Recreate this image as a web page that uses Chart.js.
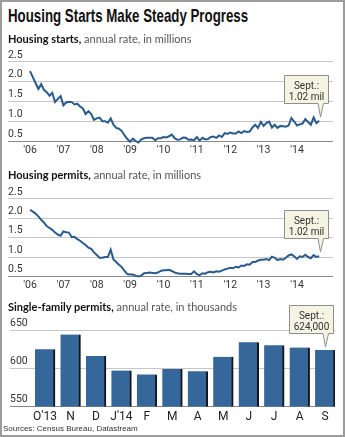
<!DOCTYPE html>
<html>
<head>
<meta charset="utf-8">
<script src="https://cdn.jsdelivr.net/npm/chart.js@4.4.1/dist/chart.umd.min.js"></script>
<style>
  body { margin: 0; background: #fff; }
  #page { position: relative; width: 345px; height: 437px; overflow: hidden; }
  .txt { position: absolute; white-space: nowrap; }
  #title { left: 8px; top: 6px; font: bold 19px/19px "Liberation Sans Narrow", "Liberation Sans", sans-serif; color: #111; transform-origin: 0 0; }
  .sub { left: 8px; font: 11px/11px Lato, sans-serif; color: #555; }
  .sub b { color: #111; font-weight: bold; }
  #src { left: 3px; top: 425px; font: 8px/8px "Liberation Sans Narrow", sans-serif; color: #333; }
  canvas { position: absolute; left: 0; }
  .note { position: absolute; }
  .note text { font: 10px Roboto, sans-serif; fill: #333; }
  #frame { position: absolute; left: 0; top: 0; width: 345px; height: 437px; box-sizing: border-box; border: 2px solid #9c9c9c; pointer-events: none; }
</style>
</head>
<body>
<div id="page">
  <canvas id="startsChart" width="345" height="126" style="top:34px"></canvas>
  <canvas id="permitsChart" width="345" height="124" style="top:171px"></canvas>
  <canvas id="singleChart" width="345" height="127" style="top:300px"></canvas>
  <div class="txt" id="title">Housing Starts Make Steady Progress</div>
  <div class="txt sub" style="top:33px"><b>Housing starts,</b> annual rate, in millions</div>
  <div class="txt sub" style="top:169px"><b>Housing permits,</b> annual rate, in millions</div>
  <div class="txt sub" style="top:301px"><b>Single-family permits,</b> annual rate, in thousands</div>
  <div class="txt" id="src">Sources: Census Bureau, Datastream</div>
  <div id="frame"></div>
</div>
<script>
// monthly, Jan 2006 - Sept 2014, millions (annual rate)
const startYear = 2006;
const housingStarts = [
  2.27, 2.12, 1.97, 1.82, 1.94, 1.80, 1.74, 1.65, 1.72, 1.49, 1.57, 1.64,
  1.41, 1.48, 1.50, 1.49, 1.43, 1.45, 1.38, 1.33, 1.19, 1.26, 1.19, 1.04,
  1.08, 1.10, 1.01, 1.01, 0.97, 1.08, 0.92, 0.84, 0.82, 0.76, 0.65, 0.56,
  0.49, 0.57, 0.51, 0.47, 0.55, 0.58, 0.59, 0.59, 0.59, 0.53, 0.58, 0.58,
  0.61, 0.60, 0.63, 0.67, 0.58, 0.54, 0.55, 0.60, 0.59, 0.54, 0.55, 0.53,
  0.61, 0.52, 0.59, 0.55, 0.56, 0.61, 0.62, 0.59, 0.65, 0.61, 0.71, 0.69,
  0.72, 0.70, 0.70, 0.75, 0.71, 0.76, 0.74, 0.75, 0.85, 0.92, 0.84, 0.99,
  0.89, 0.96, 1.00, 0.85, 0.92, 0.84, 0.89, 0.88, 0.87, 0.90, 1.09, 1.00,
  0.90, 0.93, 0.95, 1.06, 0.99, 0.92, 1.10, 0.96, 1.02
];
const housingPermits = [
  2.22, 2.17, 2.12, 2.05, 1.96, 1.89, 1.80, 1.75, 1.70, 1.63, 1.58, 1.55,
  1.66, 1.64, 1.63, 1.51, 1.52, 1.46, 1.42, 1.36, 1.31, 1.24, 1.21, 1.12,
  1.05, 0.98, 0.98, 1.00, 1.00, 1.19, 0.94, 0.87, 0.80, 0.74, 0.64, 0.56,
  0.55, 0.55, 0.52, 0.50, 0.52, 0.58, 0.59, 0.60, 0.59, 0.58, 0.60, 0.64,
  0.66, 0.66, 0.67, 0.64, 0.60, 0.58, 0.57, 0.57, 0.57, 0.56, 0.56, 0.63,
  0.56, 0.53, 0.58, 0.57, 0.61, 0.62, 0.60, 0.63, 0.62, 0.65, 0.68, 0.70,
  0.72, 0.71, 0.75, 0.73, 0.78, 0.77, 0.81, 0.80, 0.87, 0.87, 0.91, 0.93,
  0.93, 0.95, 0.92, 1.01, 0.98, 0.92, 0.95, 0.93, 0.98, 1.04, 1.07, 1.02,
  0.95, 1.02, 1.00, 1.06, 1.00, 0.97, 1.05, 1.00, 1.02
];
const yearTicks = [2006, 2007, 2008, 2009, 2010, 2011, 2012, 2013, 2014];
const millionTicks = [0.5, 1.0, 1.5, 2.0, 2.5];

// single-family permits, thousands
const months = ["O'13", 'N', 'D', "J'14", 'F', 'M', 'A', 'M', 'J', 'J', 'A', 'S'];
const singleFamily = [625, 644, 616, 597, 592, 599, 596, 615, 634, 630, 627, 624];
const thousandTicks = [550, 600, 650];

const lineColor = '#2b5b8c';
const barColor = '#36679a';

// squeeze the headline to the reference width
const title = document.getElementById('title');
title.style.transform = 'scaleX(' + (240 / title.offsetWidth) + ')';

function gridColor(ctx) {
  return ctx.index === 0 ? '#8a8a8a' : '#c6c6c6';
}

// "Sept.:" note box, placed over the last mark of a chart
function addNote(chart, lines, lift) {
  const meta = chart.getDatasetMeta(0);
  const el = meta.data[meta.data.length - 1];
  const canvas = chart.canvas;
  const tipX = canvas.offsetLeft + Math.round(el.x) + (lift === 3 ? 0 : 1);
  const tipY = canvas.offsetTop + Math.round(el.y) - lift;
  const svg = document.createElementNS('http://www.w3.org/2000/svg', 'svg');
  svg.setAttribute('class', 'note');
  svg.setAttribute('width', '46');
  svg.setAttribute('height', '44');
  svg.style.left = (tipX - 36) + 'px';
  svg.style.top = (tipY - 42) + 'px';
  svg.innerHTML =
    '<path d="M0.5 0.5H44.5V28.5H39.5L36.5 42L34 28.5H0.5Z" fill="#f5f3e2" stroke="#8e8e8e" stroke-width="1"/>' +
    '<text x="22.5" y="14" text-anchor="middle">' + lines[0] + '</text>' +
    '<text x="22.5" y="25" text-anchor="middle">' + lines[1] + '</text>';
  document.getElementById('page').insertBefore(svg, document.getElementById('frame'));
}

function lineChart(id, values) {
  const pts = values.map((v, i) => ({ x: startYear + i / 12, y: v }));
  return new Chart(document.getElementById(id), {
    type: 'line',
    data: {
      datasets: [{
        data: pts,
        borderColor: lineColor,
        borderWidth: 2,
        pointRadius: 0,
        clip: 4
      }]
    },
    options: {
      responsive: false,
      animation: false,
      events: [],
      layout: { padding: { top: 24, left: 8, right: 12, bottom: 0 } },
      plugins: { legend: { display: false }, tooltip: { enabled: false } },
      scales: {
        x: {
          type: 'linear',
          min: 2005.34,
          max: 2015.08,
          afterBuildTicks: s => { s.ticks = yearTicks.map(v => ({ value: v })); },
          grid: { display: false, drawTicks: false, tickLength: 0 },
          border: { display: false },
          ticks: {
            autoSkip: false, maxRotation: 0, padding: 3,
            color: '#333', font: { family: 'Roboto', size: 10.5 },
            callback: v => "'" + String(v).slice(2)
          }
        },
        y: {
          min: 0.5,
          max: 2.6,
          afterBuildTicks: s => { s.ticks = millionTicks.map(v => ({ value: v })); },
          grid: { color: gridColor, drawTicks: false, tickLength: 0, lineWidth: 1 },
          border: { display: false },
          ticks: {
            autoSkip: false,
            mirror: true, padding: 0, labelOffset: -7,
            color: '#333', font: { family: 'Roboto', size: 10.5 },
            callback: v => v.toFixed(1)
          }
        }
      }
    }
  });
}

const startsChart = lineChart('startsChart', housingStarts);
const permitsChart = lineChart('permitsChart', housingPermits);

const singleChart = new Chart(document.getElementById('singleChart'), {
  type: 'bar',
  data: {
    datasets: [{
      data: singleFamily.map((v, i) => ({ x: i, y: v })),
      backgroundColor: barColor,
      borderColor: '#151515',
      borderWidth: { top: 0, right: 2, bottom: 0, left: 0 },
      borderSkipped: false,
      barThickness: 20
    }]
  },
  options: {
    responsive: false,
    animation: false,
    events: [],
    layout: { padding: { top: 30, left: 10, right: 10, bottom: 0 } },
    plugins: { legend: { display: false }, tooltip: { enabled: false } },
    scales: {
      x: {
        type: 'linear',
        offset: false,
        min: -1.375,
        max: 11.39,
        afterBuildTicks: s => { s.ticks = months.map((m, i) => ({ value: i })); },
        grid: { display: false, drawTicks: false, tickLength: 0 },
        border: { display: false },
        ticks: {
          autoSkip: false, maxRotation: 0, padding: 3,
          color: '#222', font: { family: 'Roboto', size: 12 },
          callback: v => months[v]
        }
      },
      y: {
        min: 550,
        max: 650,
        afterBuildTicks: s => { s.ticks = thousandTicks.map(v => ({ value: v })); },
        grid: { color: gridColor, drawTicks: false, tickLength: 0, lineWidth: 1 },
        border: { display: false },
        ticks: {
          autoSkip: false,
          mirror: true, padding: 0, labelOffset: -7,
          color: '#333', font: { family: 'Roboto', size: 10.5 }
        }
      }
    }
  }
});

addNote(startsChart, ['Sept.:', '1.02 mil'], 4);
addNote(permitsChart, ['Sept.:', '1.02 mil'], 4);
addNote(singleChart, ['Sept.:', '624,000'], 3);
</script>
</body>
</html>
